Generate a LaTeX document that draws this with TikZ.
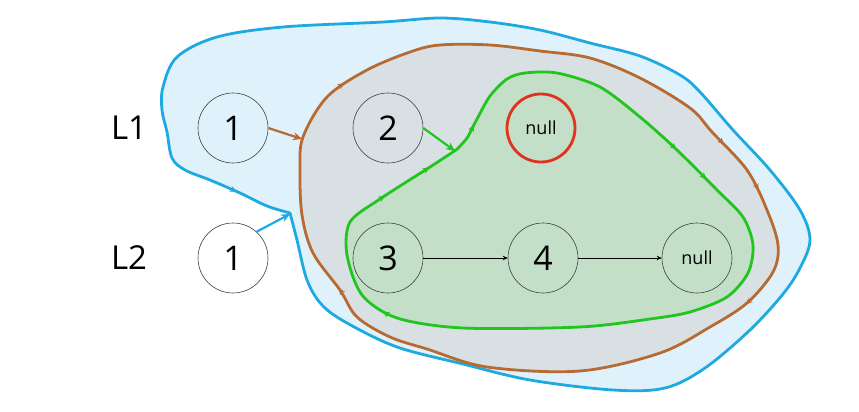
\documentclass[tikz,border=0pt]{standalone}
\usepackage{fontspec}
\setmainfont{Open Sans}
\usetikzlibrary{arrows.meta,decorations.markings}
\definecolor{bluefill}{HTML}{DFF2FC}
\definecolor{blueline}{HTML}{1FA9E1}
\definecolor{brownfill}{HTML}{D8E0E3}
\definecolor{brownline}{HTML}{B86A33}
\definecolor{greenfill}{HTML}{C3DFC7}
\definecolor{greenline}{HTML}{22C41E}
\definecolor{nullred}{HTML}{E0321E}
\tikzset{
  listnode/.style={circle,draw=black!75,line width=0.6pt,minimum size=70pt,inner sep=0pt,font=\fontsize{34}{36}\selectfont},
  nullnode/.style={listnode,font=\fontsize{18}{20}\selectfont},
  lbl/.style={font=\fontsize{33}{35}\selectfont},
  outline/.style={line width=2.8pt,line join=round},
  tinyarrows/.style={postaction={decorate,decoration={markings,#1}}},
  link/.style={-{Stealth[length=5pt,width=4.5pt]},line width=0.7pt},
  bigtip/.style={-{Stealth[length=9pt,width=8pt]},line width=2.2pt}
}
\begin{document}
\begin{tikzpicture}[x=1pt,y=-1pt]
\useasboundingbox (0,0) rectangle (859,412);
% blue region
\draw[outline,draw=blueline,fill=bluefill,
  tinyarrows={mark=at position 0.965 with {\arrow{Stealth[length=7pt,width=6pt]}}}]
  plot[smooth,tension=0.55] coordinates {(290,213) (297,240) (307,280) (322,305) (347,323) (397,347) (463,364) (530,380) (613,390) (665,388) (705,368) (750,330) (783,294) (800,268) (810,240) (800,210) (770,170) (733,130) (700,92) (680,75) (640,56) (590,43) (540,30) (490,22) (440,18) (383,22) (283,27) (217,37) (177,57) (163,87) (162,110) (167,132) (172,158) (185,170) (210,180) (240,193) (267,206) (290,213)} -- cycle;
% brown region
\draw[outline,draw=brownline,fill=brownfill,
  tinyarrows={mark=at position 0.1 with {\arrowreversed{Stealth[length=7pt,width=6pt]}},
              mark=at position 0.45 with {\arrowreversed{Stealth[length=7pt,width=6pt]}},
              mark=at position 0.55 with {\arrowreversed{Stealth[length=7pt,width=6pt]}},
              mark=at position 0.595 with {\arrowreversed{Stealth[length=7pt,width=6pt]}},
              mark=at position 0.92 with {\arrowreversed{Stealth[length=7pt,width=6pt]}}}]
  plot[smooth cycle,tension=0.55] coordinates {(303,137) (300,170) (302,215) (313,253) (340,290) (357,317) (390,337) (427,349) (487,367) (580,371) (660,353) (710,327) (747,303) (773,272) (778,245) (767,210) (747,170) (712,132) (690,108) (640,78) (590,58) (540,51) (490,45) (440,45) (410,52) (367,70) (327,97)};
% green region
\draw[outline,draw=greenline,fill=greenfill,
  tinyarrows={mark=at position 0.03 with {\arrow{Stealth[length=7pt,width=6pt]}},
              mark=at position 0.27 with {\arrow{Stealth[length=7pt,width=6pt]}},
              mark=at position 0.31 with {\arrow{Stealth[length=7pt,width=6pt]}},
              mark=at position 0.78 with {\arrow{Stealth[length=7pt,width=6pt]}},
              mark=at position 0.92 with {\arrow{Stealth[length=7pt,width=6pt]}},
              mark=at position 0.97 with {\arrow{Stealth[length=7pt,width=6pt]}}}]
  plot[smooth,tension=0.5] coordinates {(456,150) (467,138) (477,119) (490,96) (507,79) (525,73) (557,73) (600,87) (640,117) (677,150) (717,190) (743,217) (753,245) (748,273) (727,297) (690,312) (650,319) (580,327) (463,328) (397,318) (362,295) (347,255) (350,222) (380,199) (430,167) (456,150)} -- cycle;

% labels
\node[lbl] (l1) at (129,128) {L1};
\node[lbl] (l2) at (129,258) {L2};

% nodes
\node[listnode] (a1) at (233,128) {1};
\node[listnode,fill=white] (b1) at (233,258) {1};
\node[listnode] (n2) at (388,128) {2};
\node[nullnode,draw=nullred,line width=2.8pt,minimum size=68pt] (nr) at (541,128) {null};
\node[listnode] (n3) at (388,258) {3};
\node[listnode] (n4) at (543,258) {4};
\node[nullnode] (nn) at (697,258) {null};

\coordinate (pbrown) at (302,139);
\coordinate (pgreen) at (455,151);
\coordinate (pblue) at (290,214);

\draw[bigtip,brownline] (a1.east) -- (pbrown);
\draw[bigtip,greenline] (n2.east) -- (pgreen);
\draw[bigtip,blueline] (b1.48) -- (pblue);

\draw[link] (n3) -- (n4);
\draw[link] (n4) -- (nn);
\end{tikzpicture}
\end{document}
